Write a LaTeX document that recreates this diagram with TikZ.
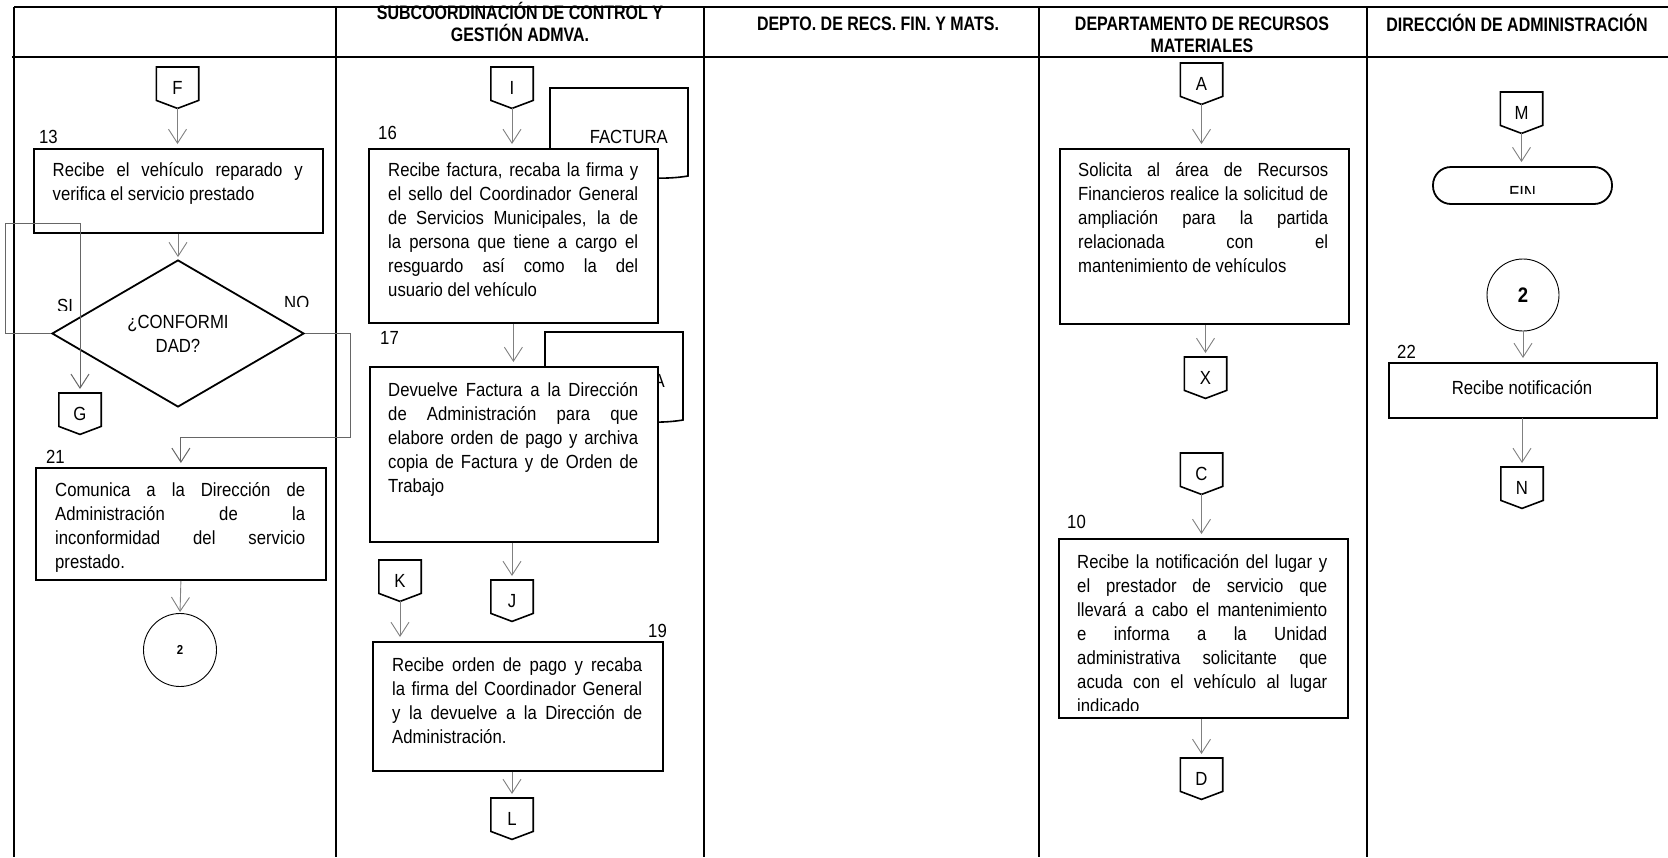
\documentclass[tikz,border=0pt]{standalone}
\usepackage{fontspec}
\setmainfont{Liberation Sans}[FakeStretch=0.88]
\newfontfamily\headfont{Liberation Sans}[FakeStretch=0.82]
\usetikzlibrary{arrows.meta,calc,shapes.geometric}

\newcommand\bodysize{\fontsize{19}{24}\selectfont}
% one justified line of a step description, and its last (ragged) line
\newcommand\flowjline[1]{\hbox to 250pt{#1}}
\newcommand\flowlastline[1]{\hbox to 250pt{#1\hfil}}

% off-page connector: a box with a pointed bottom
\newcommand\offpage[4]{%
  \node[conn] (#1) at (#2,#3) {#4};
  \draw[connline] (#1.north west) -- (#1.north east) -- ([yshift=8pt]#1.south east)
    -- (#1.south) -- ([yshift=8pt]#1.south west) -- cycle;
}

\begin{document}
\begin{tikzpicture}[
  x=1pt, y=-1pt,
  font=\bodysize,
  rule/.style={line width=2pt, black},
  box/.style={draw=black, line width=1.8pt, fill=white, anchor=north west, inner sep=0pt},
  txt/.style={anchor=base west, inner sep=0pt},
  num/.style={anchor=base west, inner sep=0pt},
  head/.style={anchor=base, inner sep=0pt, align=center,
    font=\headfont\bfseries\fontsize{19.5}{22}\selectfont},
  conn/.style={minimum width=42pt, minimum height=41pt, inner sep=0pt, anchor=north},
  connline/.style={draw=black, line width=1.6pt},
  flow/.style={draw=black!50, line width=0.9pt,
    -{Straight Barb[length=14pt,width=18pt]}, shorten >=4pt},
  loopflow/.style={draw=black!60, line width=1pt,
    -{Straight Barb[length=14pt,width=18pt]}, shorten >=4pt},
  docline/.style={draw=black, line width=1.6pt, fill=white},
]
\useasboundingbox (0,0) rectangle (1668,857);

% ---------- swimlane grid ----------
\draw[rule] (14,7) -- (1668,7);
\draw[rule] (12,57) -- (1668,57);
\foreach \x in {14,336,704,1039,1367} \draw[rule] (\x,7) -- (\x,857);

% two-line headers are anchored at the baseline of their last line
\node[head] (h2) at (520,41) {SUBCOORDINACIÓN DE CONTROL Y\\GESTIÓN ADMVA.};
\node[head] (h3) at (878,30) {DEPTO. DE RECS. FIN. Y MATS.};
\node[head] (h4) at (1202,52) {DEPARTAMENTO DE RECURSOS\\MATERIALES};
\node[head] (h5) at (1517,31) {DIRECCIÓN DE ADMINISTRACIÓN};

% ---------- lane 1 ----------
\offpage{F}{177.5}{67}{F}
\node[box, minimum width=289pt, minimum height=84pt] (b13) at (33,148) {};
\node[txt] (t13) at ($(b13.north west)+(19.5,28)$)
  {\vtop{\flowjline{Recibe el vehículo reparado y}\flowlastline{verifica el servicio prestado}}};
\node[num] (n13) at (39,143) {13};

\node[diamond, draw, line width=1.8pt, minimum width=252pt, minimum height=147pt,
  inner sep=0pt, align=center] (dec) at (178,333.5) {¿CONFORMI\\DAD?};
\begin{scope}
  \clip (40,285) rectangle (90,310);
  \node[num] (si) at (57,312) {SI};
\end{scope}
\begin{scope}
  \clip (270,285) rectangle (320,306);
  \node[num] (no) at (284,309) {NO};
\end{scope}

\offpage{G}{80}{393}{G}
\node[box, minimum width=290pt, minimum height=112pt] (b21) at (35,467) {};
\node[txt] (t21) at ($(b21.north west)+(20,29)$)
  {\vtop{\flowjline{Comunica a la Dirección de}\flowjline{Administración de la}
   \flowjline{inconformidad del servicio}\flowlastline{prestado.}}};
\node[num] (n21) at (46,463) {21};
\node[circle, draw, line width=0.9pt, minimum size=73pt, inner sep=0pt] (c2a) at (180,650)
  {\bfseries\fontsize{13}{13}\selectfont 2};

\draw[flow] (F.south) -- (F.south |- b13.north);
\draw[flow, shorten >=2pt] (b13.south -| dec.north) -- (dec.north);
\coordinate (siTurn) at (5,223);
\draw[loopflow] (dec.west) -- (dec.west -| siTurn) -- (siTurn) -- (siTurn -| G.north) -- (G.north);
\coordinate (noTurn) at (350,437);
\draw[loopflow] (dec.east) -- (dec.east -| noTurn) -- (noTurn) -- (noTurn -| b21.north) -- (b21.north);
\draw[flow, shorten >=1pt] (b21.south) -- (c2a.north);

% ---------- lane 2 ----------
\draw[docline] (550,88) -- (688,88) -- (688,176) .. controls (640,184) and (600,166) .. (550,176) -- cycle;
\node[anchor=base east, inner sep=0pt] (fac1) at (668,143) {FACTURA};
\draw[docline] (545,332) -- (683,332) -- (683,420) .. controls (635,428) and (595,410) .. (545,420) -- cycle;
\node[anchor=base east, inner sep=0pt] (fac2) at (665,387) {FACTURA};

\offpage{I}{512}{67}{I}
\node[box, minimum width=289pt, minimum height=174pt] (b16) at (368,148) {};
\node[txt] (t16) at ($(b16.north west)+(20,28)$)
  {\vtop{\flowjline{Recibe factura, recaba la firma y}\flowjline{el sello del Coordinador General}
   \flowjline{de Servicios Municipales, la de}\flowjline{la persona que tiene a cargo el}
   \flowjline{resguardo así como la del}\flowlastline{usuario del vehículo}}};
\node[num] (n16) at (378,139) {16};

\node[box, minimum width=288pt, minimum height=175pt] (b17) at (369,366) {};
\node[txt] (t17) at ($(b17.north west)+(19,30)$)
  {\vtop{\flowjline{Devuelve Factura a la Dirección}\flowjline{de Administración para que}
   \flowjline{elabore orden de pago y archiva}\flowjline{copia de Factura y de Orden de}
   \flowlastline{Trabajo}}};
\node[num] (n17) at (380,344) {17};

\offpage{J}{512}{580}{J}
\offpage{K}{400}{560}{K}
\node[box, minimum width=290pt, minimum height=129pt] (b19) at (372,641) {};
\node[txt] (t19) at ($(b19.north west)+(20,30)$)
  {\vtop{\flowjline{Recibe orden de pago y recaba}\flowjline{la firma del Coordinador General}
   \flowjline{y la devuelve a la Dirección de}\flowlastline{Administración.}}};
\node[num] (n19) at (648,637) {19};
\offpage{L}{512}{798}{L}

\draw[flow] (I.south) -- (I.south |- b16.north);
\draw[flow] (b16.south) -- (b16.south |- b17.north);
\draw[flow] (J.north |- b17.south) -- (J.north);
\draw[flow] (K.south) -- (K.south |- b19.north);
\draw[flow] (L.north |- b19.south) -- (L.north);

% ---------- lane 4 ----------
\offpage{A}{1201.5}{63}{A}
\node[box, minimum width=289pt, minimum height=175pt] (bsol) at (1059,148) {};
\node[txt] (tsol) at ($(bsol.north west)+(19,28)$)
  {\vtop{\flowjline{Solicita al área de Recursos}\flowjline{Financieros realice la solicitud de}
   \flowjline{ampliación para la partida}\flowjline{relacionada con el}
   \flowlastline{mantenimiento de vehículos}}};
\offpage{X}{1205.5}{357}{X}

\offpage{C}{1201.5}{453}{C}
\node[box, minimum width=289pt, minimum height=179pt] (b10) at (1058,538) {};
\begin{scope}
  \clip (1058,538) rectangle (1347,710);
  \node[txt] (t10) at ($(b10.north west)+(19,30)$)
    {\vtop{\flowjline{Recibe la notificación del lugar y}\flowjline{el prestador de servicio que}
     \flowjline{llevará a cabo el mantenimiento}\flowjline{e informa a la Unidad}
     \flowjline{administrativa solicitante que}\flowjline{acuda con el vehículo al lugar}
     \flowlastline{indicado}}};
\end{scope}
\node[num] (n10) at (1067,528) {10};
\offpage{D}{1201.5}{758}{D}

\draw[flow] (A.south) -- (A.south |- bsol.north);
\draw[flow] (X.north |- bsol.south) -- (X.north);
\draw[flow] (C.south) -- (C.south |- b10.north);
\draw[flow] (D.north |- b10.south) -- (D.north);

% ---------- lane 5 ----------
\offpage{M}{1521.5}{92}{M}
\node[draw, line width=1.8pt, rounded corners=18pt, minimum width=179pt, minimum height=37pt,
  inner sep=0pt] (fin) at (1522.5,185.5) {};
\begin{scope}
  \clip (1440,170) rectangle (1605,193);
  \node[anchor=base, inner sep=0pt] (fintxt) at (1522.5,199) {FIN};
\end{scope}
\node[circle, draw, line width=0.9pt, minimum size=72pt, inner sep=0pt] (c2b) at (1523,295)
  {\bfseries\fontsize{21}{21}\selectfont 2};
\node[box, minimum width=268pt, minimum height=55pt] (b22) at (1388,362) {};
\node[anchor=base, inner sep=0pt] (t22) at (1522,394) {Recibe notificación};
\node[num] (n22) at (1397,358) {22};
\offpage{N}{1522}{467}{N}

\draw[flow] (M.south) -- (M.south |- fin.north);
\draw[flow] (c2b.south) -- (c2b.south |- b22.north);
\draw[flow] (b22.south) -- (b22.south -| N.north) -- (N.north);
\end{tikzpicture}
\end{document}
